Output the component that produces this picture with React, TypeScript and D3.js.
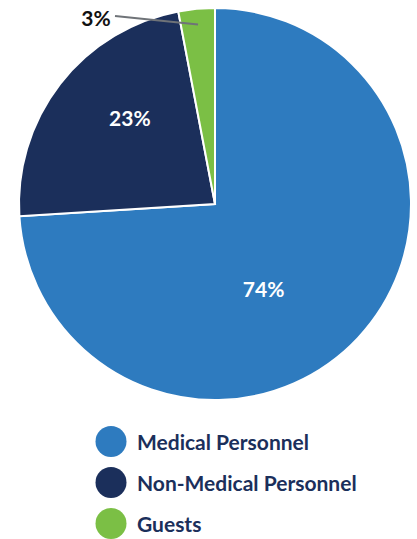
import React from 'react';
import * as d3 from 'd3';

const categories = ['Medical Personnel', 'Non-Medical Personnel', 'Guests'];
const values = [74, 23, 3];
const colors = ['#2e7bbf', '#1b2f5b', '#7bbf45'];

const W = 417;
const H = 539;
const cx = 215;
const cy = 204;
const radius = 196;

// nudges from the centroid to where the labels sit in the original
const labelNudge = [[-30, 11], [0, -20], [0, 0]];

const App = () => {
  const pie = d3.pie<number>().sort(null).value(d => d);
  const arcs = pie(values);
  const arc = d3.arc<d3.PieArcDatum<number>>().innerRadius(0).outerRadius(radius);
  const labelArc = d3.arc<d3.PieArcDatum<number>>().innerRadius(radius * 0.55).outerRadius(radius * 0.55);

  // small slice gets an outside label with a leader line
  const smallIdx = 2;
  const inner = d3.arc<d3.PieArcDatum<number>>().innerRadius(radius * 0.92).outerRadius(radius * 0.92);
  const [lx, ly] = inner.centroid(arcs[smallIdx]);

  const legendY = d3.scaleBand().domain(categories).range([421, 544]);

  return (
    <svg width={W} height={H} style={{ position: 'absolute', left: 0, top: 0, background: '#fff' }}>
      <g transform={`translate(${cx},${cy})`}>
        {arcs.map((a, i) => (
          <path key={i} d={arc(a) || ''} fill={colors[i]} stroke="#fff" strokeWidth={2} strokeLinejoin="miter" />
        ))}
        {arcs.map((a, i) => {
          if (i === smallIdx) return null;
          const [x, y] = labelArc.centroid(a);
          return (
            <text key={i} x={x + labelNudge[i][0]} y={y + labelNudge[i][1]} textAnchor="middle" dominantBaseline="central"
              fill="#fff" fontFamily="Lato, sans-serif" fontWeight={700} fontSize={21}>
              {values[i]}%
            </text>
          );
        })}
        <line x1={lx} y1={ly} x2={-100} y2={-188} stroke="#6f7378" strokeWidth={2} />
        <text x={-119} y={-187} textAnchor="middle" dominantBaseline="central"
          fill="#111" fontFamily="Lato, sans-serif" fontWeight={700} fontSize={21}>
          {values[smallIdx]}%
        </text>
      </g>
      {categories.map((c, i) => {
        const y = (legendY(c) || 0) + legendY.bandwidth() / 2;
        return (
          <g key={c}>
            <circle cx={111} cy={y} r={15.5} fill={colors[i]} />
            <text x={137} y={y} dominantBaseline="central" fill="#1b2f5b"
              fontFamily="Lato, sans-serif" fontWeight={700} fontSize={21}>
              {c}
            </text>
          </g>
        );
      })}
    </svg>
  );
};

export default App;
